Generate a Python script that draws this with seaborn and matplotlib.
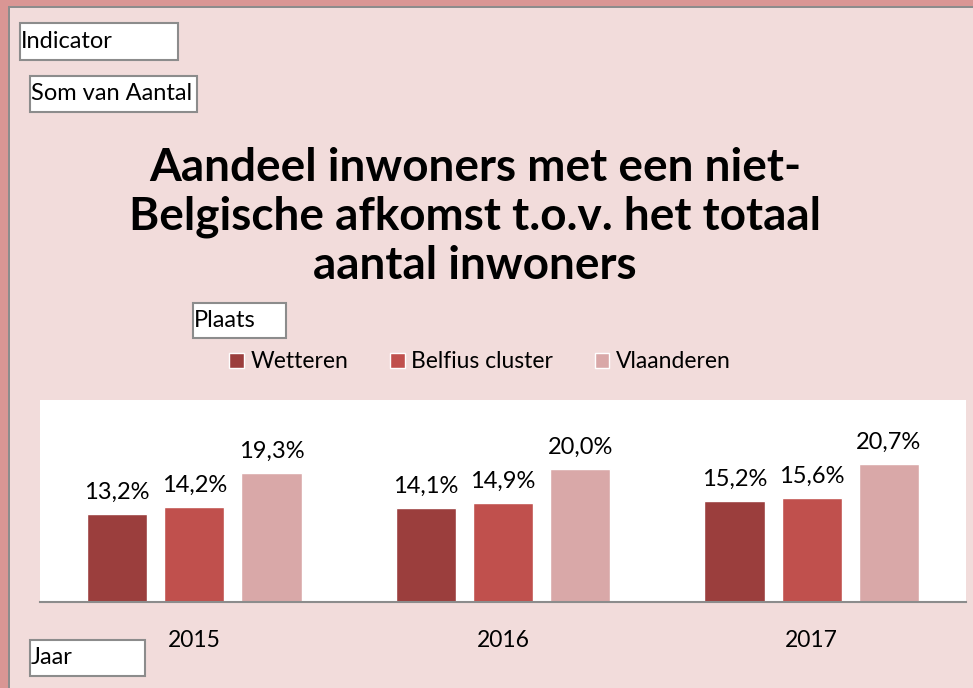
import pandas as pd
import seaborn as sns
import matplotlib.pyplot as plt
from matplotlib.patches import Rectangle

# data
jaren = ["2015", "2016", "2017"]
plaatsen = ["Wetteren", "Belfius cluster", "Vlaanderen"]
wetteren = [13.2, 14.1, 15.2]
belfius = [14.2, 14.9, 15.6]
vlaanderen = [19.3, 20.0, 20.7]
kleuren = ["#9b3e3d", "#c0504d", "#d9a8a8"]

df = pd.DataFrame({
    "Jaar": jaren * 3,
    "Plaats": [p for p in plaatsen for _ in jaren],
    "Aandeel": wetteren + belfius + vlaanderen,
})

sns.set_theme(style="white")
plt.rcParams["font.family"] = ["Lato", "DejaVu Sans"]
plt.rcParams["text.color"] = "black"
plt.rcParams["xtick.color"] = "black"

W, H = 973, 688
fig = plt.figure(figsize=(9.73, 6.88), dpi=100)
fig.patch.set_facecolor("#f2dcdb")

# outer frame (darker band top + left)
fig.patches.append(Rectangle((0, (H - 6) / H), 1, 6 / H, transform=fig.transFigure,
                             facecolor="#d99694", edgecolor="none", zorder=0))
fig.patches.append(Rectangle((0, 0), 8 / W, 1, transform=fig.transFigure,
                             facecolor="#d99694", edgecolor="none", zorder=0))
fig.patches.append(Rectangle((8 / W, (H - 8) / H), 1, 2 / H, transform=fig.transFigure,
                             facecolor="#8c8c8c", edgecolor="none", zorder=0))
fig.patches.append(Rectangle((8 / W, 0), 2 / W, (H - 8) / H, transform=fig.transFigure,
                             facecolor="#8c8c8c", edgecolor="none", zorder=0))

ax = fig.add_axes([40 / W, (H - 602) / H, 926 / W, 202 / H])
sns.barplot(data=df, x="Jaar", y="Aandeel", hue="Plaats", hue_order=plaatsen,
            palette=kleuren, saturation=1, width=0.75, gap=0.22,
            edgecolor="white", linewidth=1, ax=ax)
ax.set_facecolor("white")
ax.set_ylim(0, 30.3)
ax.set_xlim(-0.5, 2.5)
ax.set_yticks([])
ax.set_xlabel("")
ax.set_ylabel("")
for s in ["top", "left", "right"]:
    ax.spines[s].set_visible(False)
ax.spines["bottom"].set_color("#8c8c8c")
ax.spines["bottom"].set_linewidth(1.5)
ax.tick_params(axis="x", length=0, pad=20, labelsize=16.5, labelcolor="black")

for cont in ax.containers:
    ax.bar_label(cont, labels=[f"{v:.1f}%".replace(".", ",") for v in cont.datavalues],
                 padding=8, fontsize=17, color="black")

sns.move_legend(ax, "center", bbox_to_anchor=(480 / W, (H - 362) / H),
                bbox_transform=fig.transFigure, ncol=3, frameon=False, title=None,
                fontsize=16.5, handlelength=0.65, handleheight=0.65, handletextpad=0.3,
                columnspacing=1.8, labelcolor="black")

# title
fig.text(475 / W, (H - 217) / H,
         "Aandeel inwoners met een niet-\nBelgische afkomst t.o.v. het totaal\naantal inwoners",
         ha="center", va="center", fontsize=33, fontweight="bold", linespacing=1.2,
         color="black")

# field buttons
knoppen = [("Indicator", 20, 23, 158, 37), ("Som van Aantal", 30, 76, 167, 36),
           ("Plaats", 193, 303, 93, 35), ("Jaar", 30, 640, 115, 36)]
for tekst, x, y, w, h in knoppen:
    fig.patches.append(Rectangle((x / W, (H - y - h) / H), w / W, h / H,
                                 transform=fig.transFigure, facecolor="white",
                                 edgecolor="#8c8c8c", linewidth=1.5, zorder=1))
    fig.text((x + 1) / W, (H - y - h / 2) / H, tekst, ha="left", va="center",
             fontsize=17, zorder=2, color="black")

fig.savefig("out.png", dpi=100, facecolor=fig.get_facecolor())
